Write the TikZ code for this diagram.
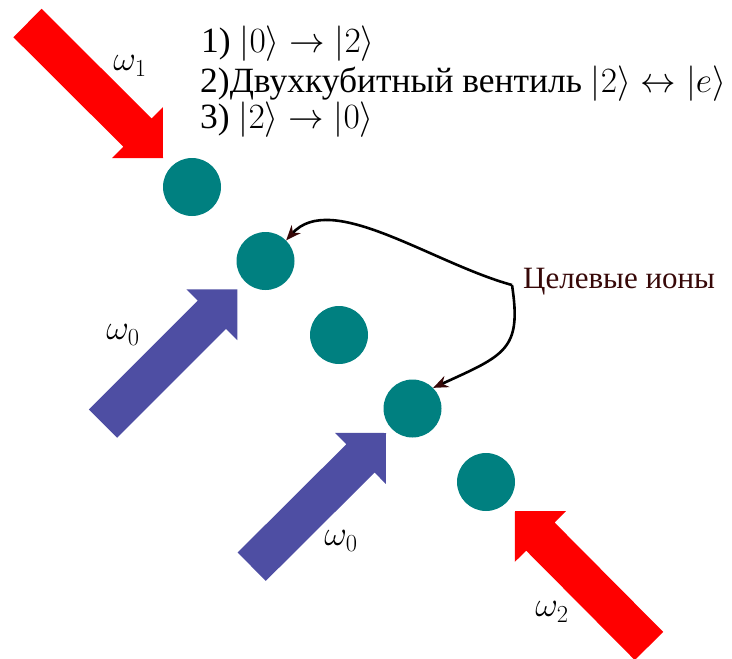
\RequirePackage{fix-cm}
\documentclass[tikz,border=0pt]{standalone}
\usepackage{fontspec}
\setmainfont{Liberation Serif}
\usetikzlibrary{calc,arrows.meta}
\definecolor{ion}{RGB}{0,128,128}
\definecolor{beamred}{RGB}{255,0,0}
\definecolor{beamblue}{RGB}{78,78,163}
\definecolor{lbl}{RGB}{55,8,8}
\newcommand\beam[3]{%
  \coordinate (bH) at ($(#2)!36pt!(#1)$);
  \fill[#3] ($(#1)!20pt!90:(#2)$) -- ($(bH)!20pt!90:(#2)$) -- ($(bH)!36pt!90:(#2)$) -- (#2)
    -- ($(bH)!36pt!-90:(#2)$) -- ($(bH)!20pt!-90:(#2)$) -- ($(#1)!20pt!-90:(#2)$) -- cycle;
}
\begin{document}
\begin{tikzpicture}[x=1pt,y=-1pt,
  ionnode/.style={circle,fill=ion,minimum size=58pt,inner sep=0pt},
  txt/.style={anchor=base west,inner sep=0pt,font=\rmfamily\fontsize{35.5}{40}\selectfont},
  om/.style={inner sep=0pt,font=\fontsize{35}{40}\selectfont},
  pointer/.style={line width=2.6pt,black,-{Stealth[length=15pt,width=12pt,color=lbl]}}]
\useasboundingbox (0,0) rectangle (732,659);
\clip (0,0) rectangle (732,659);
% ions
\node[ionnode] (c1) at (192,187) {};
\node[ionnode] (c2) at (265.5,261) {};
\node[ionnode] (c3) at (339,335) {};
\node[ionnode] (c4) at (412.5,408.5) {};
\node[ionnode] (c5) at (486,482) {};
% beams
\coordinate (r1a) at (27.5,23);   \coordinate (r1b) at (163,158);
\coordinate (b1a) at (103,423.7); \coordinate (b1b) at (237.3,289.3);
\coordinate (b2a) at (251.7,566.7); \coordinate (b2b) at (386,433);
\coordinate (r2a) at (649,646);   \coordinate (r2b) at (515,511);
\beam{r1a}{r1b}{beamred}
\beam{b1a}{b1b}{beamblue}
\beam{b2a}{b2b}{beamblue}
\beam{r2a}{r2b}{beamred}
% beam labels
\node[om] (w1) at (130,66) {$\omega_1$};
\node[om] (w0a) at (123,335) {$\omega_0$};
\node[om] (w0b) at (341,541) {$\omega_0$};
\node[om] (w2) at (552,612) {$\omega_2$};
% steps
\node[txt] (l1) at (201,52) {1) $|0\rangle \rightarrow |2\rangle$};
\node[txt] (l2) at (200,92) {2)Двухкубитный вентиль $|2\rangle \leftrightarrow |e\rangle$};
\node[txt] (l3) at (200,128) {3) $|2\rangle \rightarrow |0\rangle$};
% target label
\node[anchor=base west,inner sep=0pt,text=lbl,font=\rmfamily\fontsize{31}{36}\selectfont] (tg) at (523,288) {Целевые ионы};
\coordinate (j) at (512,285);
\draw[pointer] (j) .. controls (432,263) and (331,190) .. (c2.45);
\draw[pointer] (j) .. controls (522,350) and (505,355) .. (c4.45);
\end{tikzpicture}
\end{document}
